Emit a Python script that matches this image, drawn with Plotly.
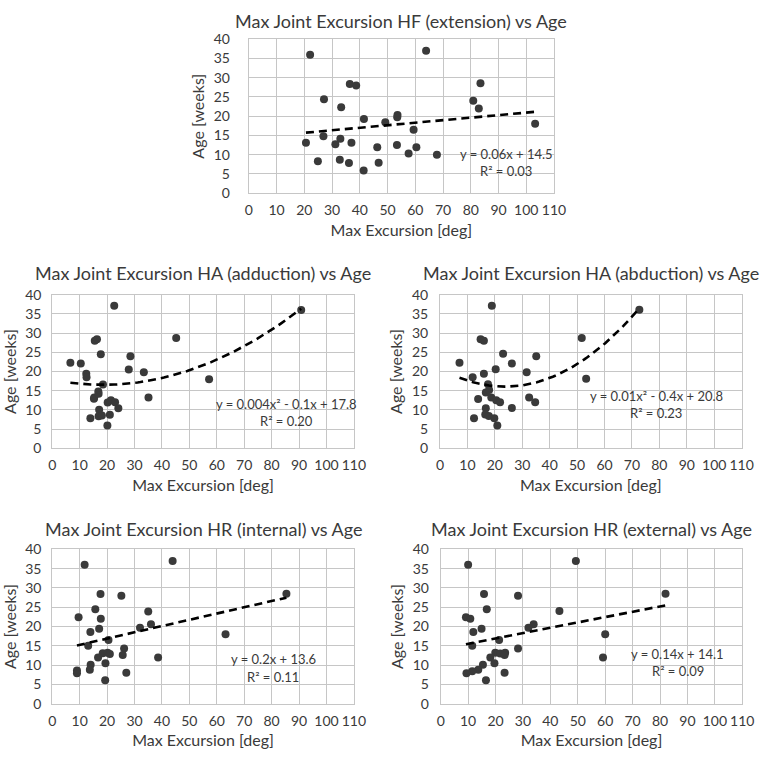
import numpy as np
import plotly.graph_objects as go

# ---------------- data ----------------
hf_ext_x = [20.6, 22.1, 24.9, 27.1, 26.9, 31.2, 33.0, 33.3, 32.8, 36.4, 36.1, 37.0, 38.7, 41.5, 41.4,
            46.3, 46.8, 49.2, 53.4, 53.5, 53.6, 57.6, 59.4, 60.4, 63.9, 67.8, 80.9, 82.9, 83.5, 103.2]
hf_ext_y = [13.1, 36.0, 8.3, 24.4, 14.8, 12.7, 14.1, 22.3, 8.7, 28.4, 7.8, 13.1, 28.0, 19.3, 5.9,
            11.9, 7.9, 18.4, 12.5, 19.7, 20.3, 10.3, 16.5, 11.9, 37.0, 10.0, 24.0, 22.0, 28.6, 18.0]

ha_add_x = [6.6, 10.4, 12.4, 12.5, 13.9, 15.2, 15.3, 15.5, 16.3, 16.8, 16.9, 17.1, 16.9, 18.1, 17.7,
            18.5, 20.1, 20.2, 21.0, 21.4, 22.6, 22.9, 24.1, 27.9, 28.5, 33.4, 35.1, 45.2, 57.2, 90.8]
ha_add_y = [22.3, 22.1, 19.4, 18.5, 7.8, 12.9, 13.2, 28.0, 28.4, 14.8, 14.2, 10.0, 8.3, 8.5, 24.5,
            16.6, 5.9, 11.9, 8.7, 12.5, 37.1, 12.0, 10.4, 20.5, 24.0, 19.8, 13.2, 28.7, 18.0, 36.0]

ha_abd_x = [7.1, 11.9, 12.4, 13.9, 14.8, 16.0, 16.0, 16.7, 16.7, 16.5, 17.5, 17.9, 17.8, 18.9, 18.7,
            19.8, 20.3, 20.5, 21.9, 20.9, 23.0, 26.2, 26.2, 31.6, 32.5, 34.7, 35.1, 51.7, 53.3, 72.7]
ha_abd_y = [22.3, 18.5, 7.8, 12.8, 28.4, 28.0, 19.4, 14.5, 10.4, 8.8, 16.7, 15.2, 8.4, 37.1, 13.2,
            7.8, 20.6, 12.5, 12.0, 5.9, 24.6, 22.1, 10.5, 19.8, 13.2, 12.0, 24.0, 28.7, 18.1, 36.1]

hr_int_x = [11.8, 43.9, 17.6, 25.2, 15.7, 35.0, 9.6, 17.7, 36.0, 32.0, 17.1, 13.9, 20.5, 13.1, 26.2,
            18.4, 20.2, 21.0, 25.7, 16.7, 38.6, 19.4, 14.0, 13.7, 9.0, 9.0, 27.0, 19.3, 63.2, 85.4]
hr_int_y = [36.0, 37.0, 28.4, 28.0, 24.5, 23.9, 22.4, 22.0, 20.6, 19.7, 19.4, 18.6, 16.5, 15.0, 14.3,
            13.1, 13.2, 12.9, 12.6, 12.0, 12.0, 10.5, 10.1, 8.8, 8.6, 7.9, 8.0, 6.1, 18.0, 28.5]

hr_ext_x = [10.0, 49.3, 15.8, 28.2, 16.8, 43.3, 9.2, 10.8, 33.9, 32.0, 14.9, 11.9, 21.3, 11.5, 28.2,
            19.9, 21.7, 23.5, 23.3, 18.1, 59.2, 19.6, 15.4, 13.7, 11.5, 9.4, 23.3, 16.5, 60.0, 82.0]
hr_ext_y = [36.0, 37.0, 28.4, 28.0, 24.5, 24.0, 22.4, 22.0, 20.6, 19.7, 19.4, 18.6, 16.5, 15.0, 14.3,
            13.2, 13.0, 13.2, 12.6, 12.0, 12.0, 10.5, 10.1, 8.8, 8.4, 7.9, 8.0, 6.1, 18.0, 28.5]

titles = ["Max Joint Excursion HF (extension) vs Age",
          "Max Joint Excursion HA (adduction) vs Age",
          "Max Joint Excursion HA (abduction) vs Age",
          "Max Joint Excursion HR (internal) vs Age",
          "Max Joint Excursion HR (external) vs Age"]
equations = ["y = 0.06x + 14.5", "y = 0.004x² - 0.1x + 17.8",
             "y = 0.01x² - 0.4x + 20.8", "y = 0.2x + 13.6", "y = 0.14x + 14.1"]
r2_texts = ["R² = 0.03", "R² = 0.20", "R² = 0.23", "R² = 0.11", "R² = 0.09"]
fit_degree = [1, 2, 2, 1, 1]
x_label = "Max Excursion [deg]"
y_label = "Age [weeks]"

series = [(hf_ext_x, hf_ext_y), (ha_add_x, ha_add_y), (ha_abd_x, ha_abd_y),
          (hr_int_x, hr_int_y), (hr_ext_x, hr_ext_y)]

# ---------------- layout (pixels) ----------------
W, H = 768, 758
# plot areas: (left, right, top, bottom) in px
areas = [(250, 561.7, 31, 188.3),
         (49.3, 357.3, 292.3, 449.3),
         (445.3, 753.3, 292.3, 449.3),
         (49.3, 357.3, 552.7, 710.7),
         (446, 754, 552.7, 710.7)]
title_y = [12, 270, 270, 532, 532]
eq_pos = [(513, 148, 166), (288, 404, 421), (666, 396, 413), (275, 665, 683), (688, 660, 677)]
ytick_standoff = [15, 7, 8, 7, 8]

FONT = "Lato"
TXT = "#3a3a3a"
GRID = "#c6c6c6"
MARK = "#3a3a3a"

fig = go.Figure()
layout = dict(width=W, height=H, margin=dict(l=0, r=0, t=0, b=0),
              paper_bgcolor="white", plot_bgcolor="white", showlegend=False,
              font=dict(family=FONT, color=TXT))
annotations = []

for i, ((xs, ys), area) in enumerate(zip(series, areas)):
    n = "" if i == 0 else str(i + 1)
    xa, ya = "x" + n, "y" + n
    left, right, top, bottom = area
    fig.add_trace(go.Scatter(x=xs, y=ys, mode="markers", xaxis=xa, yaxis=ya,
                             marker=dict(color=MARK, size=8, line=dict(width=0))))
    coef = np.polyfit(np.array(xs), np.array(ys), fit_degree[i])
    fx = np.linspace(min(xs), max(xs), 80)
    fy = np.polyval(coef, fx)
    fig.add_trace(go.Scatter(x=fx, y=fy, mode="lines", xaxis=xa, yaxis=ya,
                             line=dict(color="black", width=2.6, dash="8px,5px")))
    ax_common = dict(showgrid=True, gridcolor=GRID, gridwidth=1, showline=True,
                     linecolor=GRID, linewidth=1, mirror=True, zeroline=False,
                     ticks="", tickfont=dict(family=FONT, size=14, color=TXT),
                     tickangle=0, fixedrange=True)
    layout["xaxis" + n] = dict(ax_common, domain=[left / W, right / W], range=[0, 110],
                               dtick=10, tick0=0, anchor=ya, ticklabelstandoff=4,
                               title=dict(text=x_label, standoff=7,
                                          font=dict(family=FONT, size=16, color=TXT)))
    layout["yaxis" + n] = dict(ax_common, domain=[1 - bottom / H, 1 - top / H], range=[0, 40],
                               dtick=5, tick0=0, anchor=xa, ticklabelstandoff=ytick_standoff[i],
                               title=dict(text=y_label, standoff=5,
                                          font=dict(family=FONT, size=16, color=TXT)))
    annotations.append(dict(text=titles[i], x=(left + right) / 2 / W, y=1 - title_y[i] / H,
                            xref="paper", yref="paper", showarrow=False,
                            xanchor="center", yanchor="middle",
                            font=dict(family=FONT, size=18, color=TXT)))
    ex, ey1, ey2 = eq_pos[i]
    annotations.append(dict(text=equations[i], x=ex / W, y=1 - ey1 / H, xref="paper", yref="paper",
                            showarrow=False, xanchor="center", yanchor="middle",
                            font=dict(family=FONT, size=13, color=TXT)))
    annotations.append(dict(text=r2_texts[i], x=ex / W, y=1 - ey2 / H, xref="paper", yref="paper",
                            showarrow=False, xanchor="center", yanchor="middle",
                            font=dict(family=FONT, size=13, color=TXT)))

layout["annotations"] = annotations
fig.update_layout(**layout)
fig.write_html("out.html")
